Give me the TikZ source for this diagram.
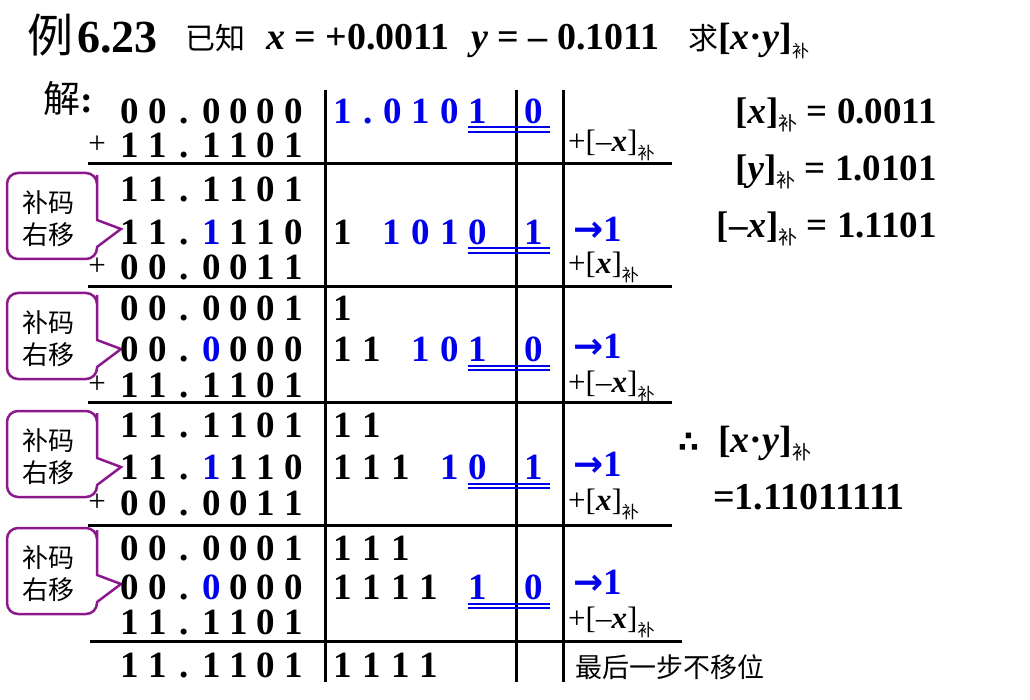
\documentclass[tikz,border=0pt]{standalone}
\usepackage{fontspec}
\setmainfont{Liberation Serif}
\newfontfamily\cjk{Noto Sans CJK SC}
\newfontfamily\djv{DejaVu Sans}
\definecolor{bl}{RGB}{0,0,235}
\definecolor{pur}{RGB}{140,25,140}
\newcommand\fs[1]{\fontsize{#1}{#1}\selectfont}
\newcommand\ls[1]{\makebox[27.2pt]{#1}}
\newcommand\ms[1]{\makebox[28.6pt]{#1}}
\def\lsp#1{\ifx#1\relax\else\ls{#1}\expandafter\lsp\fi}
\def\msp#1{\ifx#1\relax\else\ms{#1}\expandafter\msp\fi}
\newcommand\gap{\hspace{20.4pt}}
\newcommand\sub[2]{\raisebox{#1}{\cjk\mdseries\fs{#2}补}}
\tikzset{
  lnum/.style={anchor=west, inner sep=0pt, font=\fs{37}\bfseries, text height=25pt, text depth=0pt},
  cnum/.style={anchor=center, inner sep=0pt, font=\fs{37}\bfseries, text height=25pt, text depth=0pt, text=bl},
  plus/.style={anchor=center, inner sep=0pt, font=\fs{31}},
  grid/.style={line width=3pt},
  dbl/.style={draw=bl, line width=2pt},
  callout/.style={draw=pur, line width=2.5pt},
  cotext/.style={font=\cjk\fs{26}, inner sep=0pt, anchor=center},
  lab/.style={anchor=base west, inner sep=0pt, font=\fs{31}},
  arr/.style={anchor=west, inner sep=0pt, font=\fs{37}\bfseries, text=bl, text height=25pt, text depth=0pt},
  res/.style={anchor=base east, inner sep=0pt, font=\fs{37}\bfseries},
  ttl/.style={anchor=base west, inner sep=0pt},
}
\newcommand\callout[2]{%
  \draw[callout] (97,#2+47) -- (121,#2+56) -- (97,#2+74) -- (97,#2+74.5)
     [rounded corners=11pt] -- (97,#2+86) -- (7,#2+86) -- (7,#2) -- (97,#2) -- (97,#2+13)
     [sharp corners] -- cycle;
  \node[cotext] (#1a) at (48,#2+30) {补码};
  \node[cotext] (#1b) at (48,#2+62) {右移};}
\newcommand\dbl[1]{%
  \draw[dbl] (468,#1+16.5) -- (550,#1+16.5);
  \draw[dbl] (468,#1+21) -- (550,#1+21);}
\newcommand\arrow{{\djv\bfseries\fs{36}→}}
\begin{document}
\begin{tikzpicture}[x=1pt,y=-1pt]
\path[use as bounding box] (0,0) rectangle (1030,700);
% title
\node[ttl, font=\cjk\fs{46}] (t1) at (27,53) {例};
\node[ttl, font=\fs{46}\bfseries] (t2) at (77,53) {6.23};
\node[ttl, font=\cjk\fs{30}] (t3) at (185,50) {已知};
\node[ttl, font=\fs{38}\bfseries] (t4) at (266,50) {\textit{x} = +0.0011};
\node[ttl, font=\fs{38}\bfseries] (t5) at (471,50) {\textit{y} = – 0.1011};
\node[ttl, font=\fs{38}\bfseries] (t6) at (688,50) {{\cjk\mdseries\fs{30}求}[\textit{x}·\textit{y}]\sub{-8pt}{17}};
\node[ttl] (jie) at (43,113) {{\cjk\fs{37}解}{\fs{38}\bfseries:}};
% grid
\draw[grid] (88,164) -- (672,164);
\draw[grid] (88,287) -- (672,287);
\draw[grid] (88,402) -- (672,402);
\draw[grid] (88,525) -- (672,525);
\draw[grid] (90,641) -- (682,641);
\draw[grid] (325,90) -- (325,682);
\draw[grid] (516,90) -- (516,682);
\draw[grid] (563,90) -- (563,682);
% block 1
\node[lnum] (L1a) at (116.4,111) {\lsp00.0000\relax};
\node[plus] (P1) at (97,145) {+};
\node[lnum] (L1b) at (116.4,145) {\lsp11.1101\relax};
\node[lnum] (M1a) at (328.7,111) {\color{bl}\ms{1}\makebox[20.6pt]{.}\msp0101\relax};
\node[cnum] (C1) at (534,111) {0};
\dbl{111}
\node[lab] (lab1) at (568,152) {+[–\textbf{\textit{x}}]\sub{-8pt}{17}};
% block 2
\callout{co2}{173}
\node[lnum] (L2a) at (116.4,189) {\lsp11.1101\relax};
\node[lnum] (L2b) at (116.4,232) {\lsp11.\relax\ls{\color{bl}1}\lsp110\relax};
\node[plus] (P2) at (97,267) {+};
\node[lnum] (L2c) at (116.4,267) {\lsp00.0011\relax};
\node[lnum] (M2b) at (328.7,232) {\ms{1}\gap{\color{bl}\msp1010\relax}};
\node[cnum] (C2) at (534,232) {1};
\dbl{232}
\node[arr] (A2) at (573,229) {\arrow1};
\node[lab] (lab2) at (568,274) {+[\textbf{\textit{x}}]\sub{-8pt}{17}};
% block 3
\callout{co3}{293}
\node[lnum] (L3a) at (116.4,308) {\lsp00.0001\relax};
\node[lnum] (L3b) at (116.4,349) {\lsp00.\relax\ls{\color{bl}0}\lsp000\relax};
\node[plus] (P3) at (97,385) {+};
\node[lnum] (L3c) at (116.4,385) {\lsp11.1101\relax};
\node[lnum] (M3a) at (328.7,308) {\ms{1}};
\node[lnum] (M3b) at (328.7,349) {\msp11\relax\gap{\color{bl}\msp101\relax}};
\node[cnum] (C3) at (534,349) {0};
\dbl{349}
\node[arr] (A3) at (573,346) {\arrow1};
\node[lab] (lab3) at (568,392) {+[–\textbf{\textit{x}}]\sub{-8pt}{17}};
% block 4
\callout{co4}{411}
\node[lnum] (L4a) at (116.4,425) {\lsp11.1101\relax};
\node[lnum] (L4b) at (116.4,467) {\lsp11.\relax\ls{\color{bl}1}\lsp110\relax};
\node[plus] (P4) at (97,503) {+};
\node[lnum] (L4c) at (116.4,503) {\lsp00.0011\relax};
\node[lnum] (M4a) at (328.7,425) {\msp11\relax};
\node[lnum] (M4b) at (328.7,467) {\msp111\relax\gap{\color{bl}\msp10\relax}};
\node[cnum] (C4) at (534,467) {1};
\dbl{467}
\node[arr] (A4) at (573,464) {\arrow1};
\node[lab] (lab4) at (568,510) {+[\textbf{\textit{x}}]\sub{-8pt}{17}};
% block 5
\callout{co5}{528}
\node[lnum] (L5a) at (116.4,548) {\lsp00.0001\relax};
\node[lnum] (L5b) at (116.4,587) {\lsp00.\relax\ls{\color{bl}0}\lsp000\relax};
\node[lnum] (L5c) at (116.4,622) {\lsp11.1101\relax};
\node[lnum] (M5a) at (328.7,548) {\msp111\relax};
\node[lnum] (M5b) at (328.7,587) {\msp1111\relax\gap{\color{bl}\msp1\relax}};
\node[cnum] (C5) at (534,587) {0};
\dbl{587}
\node[arr] (A5) at (573,582) {\arrow1};
\node[lab] (lab5) at (568,628) {+[–\textbf{\textit{x}}]\sub{-8pt}{17}};
% final
\node[lnum] (L6) at (116.4,665) {\lsp11.1101\relax};
\node[lnum] (M6) at (328.7,665) {\msp1111\relax};
\node[anchor=west, inner sep=0pt, font=\cjk\fs{27}] (note) at (575,667) {最后一步不移位};
% right side
\node[res] (r1) at (937,124) {[\textit{x}]\sub{-7pt}{19} = 0.0011};
\node[res] (r2) at (937,181) {[\textit{y}]\sub{-7pt}{19} = 1.0101};
\node[res] (r3) at (937,238) {[–\textit{x}]\sub{-7pt}{19} = 1.1101};
\node[ttl, font=\djv\bfseries\fs{30}] (th) at (678,452) {∴};
\node[ttl, font=\fs{38}\bfseries] (xy) at (718,452) {[\textit{x}·\textit{y}]\sub{-7pt}{19}};
\node[ttl, font=\fs{38}\bfseries] (res) at (713,509) {=1.11011111};
\end{tikzpicture}
\end{document}
